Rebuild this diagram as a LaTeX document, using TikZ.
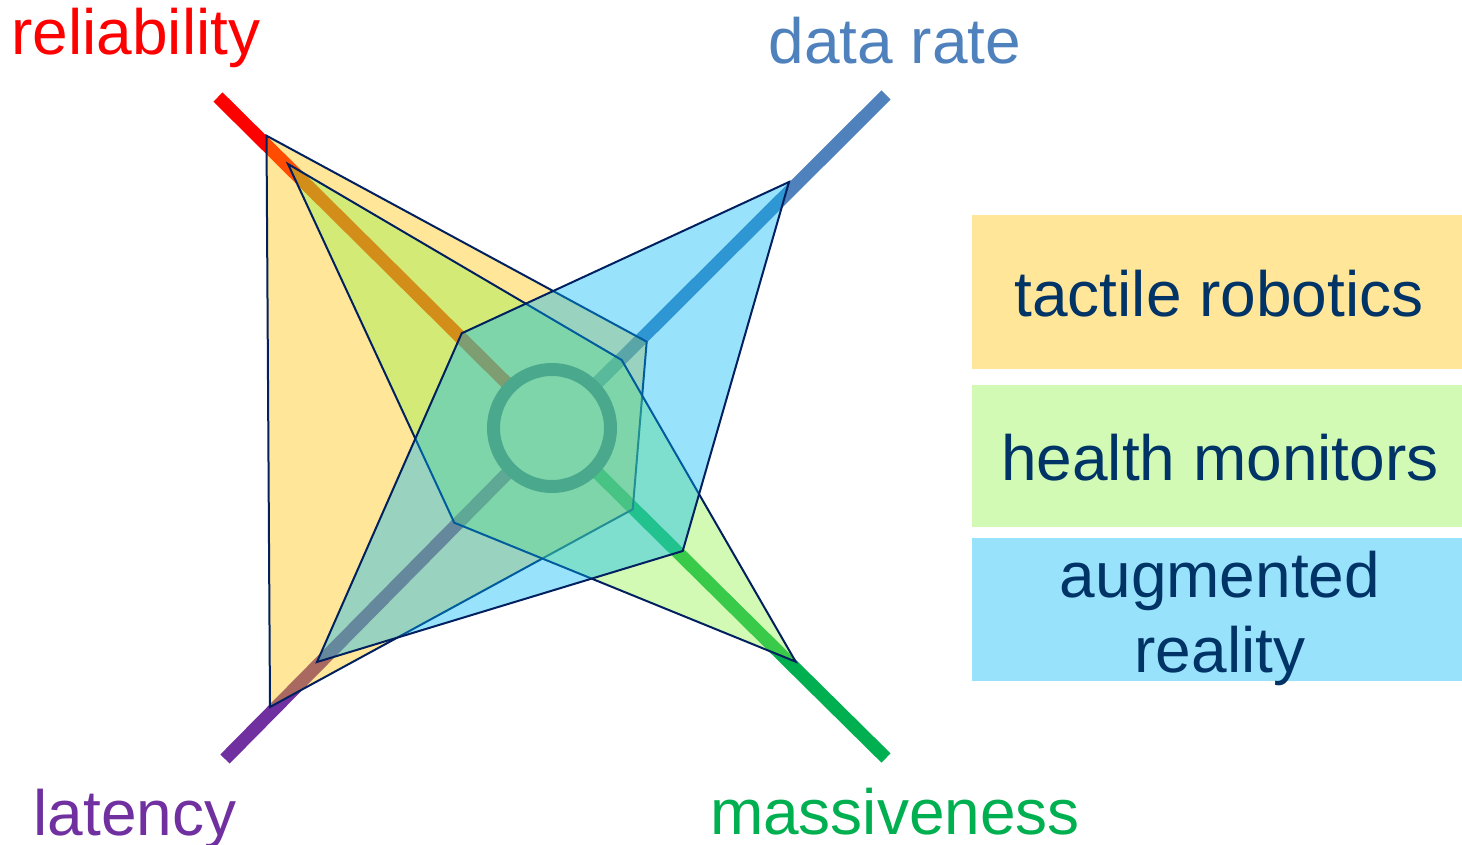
\documentclass[tikz,border=0pt]{standalone}
\usepackage{fontspec}
\setmainfont{Liberation Sans}
\usetikzlibrary{calc}

\definecolor{relcol}{RGB}{255,0,0}
\definecolor{ratecol}{RGB}{79,129,189}
\definecolor{latcol}{RGB}{112,48,160}
\definecolor{masscol}{RGB}{0,176,80}
\definecolor{edgecol}{RGB}{0,32,96}
\definecolor{txtcol}{RGB}{0,51,102}
\definecolor{tactfill}{RGB}{255,192,0}
\definecolor{healthfill}{RGB}{145,242,67}
\definecolor{arfill}{RGB}{0,183,248}
\definecolor{ringcol}{RGB}{74,168,140}

\begin{document}
\begin{tikzpicture}[x=0.5pt,y=-0.5pt,
  axisline/.style={line width=6.5pt, line cap=butt},
  area/.style={draw=edgecol, line width=1pt, line join=miter, fill opacity=0.4},
  axislabel/.style={font=\fontsize{32}{38}\selectfont, anchor=base, inner sep=0pt},
  legendbox/.style={anchor=north west, inner sep=0pt, minimum width=245pt, fill opacity=0.4},
  legendtext/.style={font=\fontsize{32}{38}\selectfont, text=txtcol, anchor=base, inner sep=0pt}]

\useasboundingbox (0,0) rectangle (1462,845);

% centre of the chart and outer ends of the four axes
\coordinate (C) at (552,428);
\coordinate (Rel) at (218,97);
\coordinate (Rate) at (886,95);
\coordinate (Lat) at (225,759);
\coordinate (Mass) at (886,758);

% axes, running from the outer end to the central ring
\draw[axisline, relcol]  (Rel)  -- ($(C)!29pt!(Rel)$);
\draw[axisline, ratecol] (Rate) -- ($(C)!29pt!(Rate)$);
\draw[axisline, latcol]  (Lat)  -- ($(C)!29pt!(Lat)$);
\draw[axisline, masscol] (Mass) -- ($(C)!29pt!(Mass)$);

% tactile robotics
\coordinate (t1) at (266.5,135.7);
\coordinate (t2) at (646.7,341.7);
\coordinate (t3) at (632.7,509.3);
\coordinate (t4) at (270,707);
\draw[area, fill=tactfill] (t1) -- (t2) -- (t3) -- (t4) -- cycle;

% health monitors
\coordinate (h1) at (288,164);
\coordinate (h2) at (621.7,360);
\coordinate (h3) at (795.7,661.7);
\coordinate (h4) at (454.3,522.7);
\draw[area, fill=healthfill] (h1) -- (h2) -- (h3) -- (h4) -- cycle;

% augmented reality
\coordinate (a1) at (461.7,333.3);
\coordinate (a2) at (789,182);
\coordinate (a3) at (682.7,551);
\coordinate (a4) at (317,662);
\draw[area, fill=arfill] (a1) -- (a2) -- (a3) -- (a4) -- cycle;

% central ring
\draw[ringcol, line width=6.5pt] (C) circle[radius=29.25pt];

% axis names
\node[axislabel, text=relcol]  (labRel)  at (136,55)  {reliability};
\node[axislabel, text=ratecol] (labRate) at (895,64)  {data rate};
\node[axislabel, text=latcol]  (labLat)  at (135,835) {latency};
\node[axislabel, text=masscol] (labMass) at (895,834) {massiveness};

% legend
\node[legendbox, fill=tactfill,   minimum height=77pt]   (legT) at (972,215) {};
\node[legendbox, fill=healthfill, minimum height=71pt]   (legH) at (972,385) {};
\node[legendbox, fill=arfill,     minimum height=71.5pt] (legA) at (972,538) {};

\node[legendtext] (txtT)  at (1219,317) {tactile robotics};
\node[legendtext] (txtH)  at (1220,480) {health monitors};
\node[legendtext] (txtA1) at (1220,597) {augmented};
\node[legendtext] (txtA2) at (1220,672) {reality};

\end{tikzpicture}
\end{document}
